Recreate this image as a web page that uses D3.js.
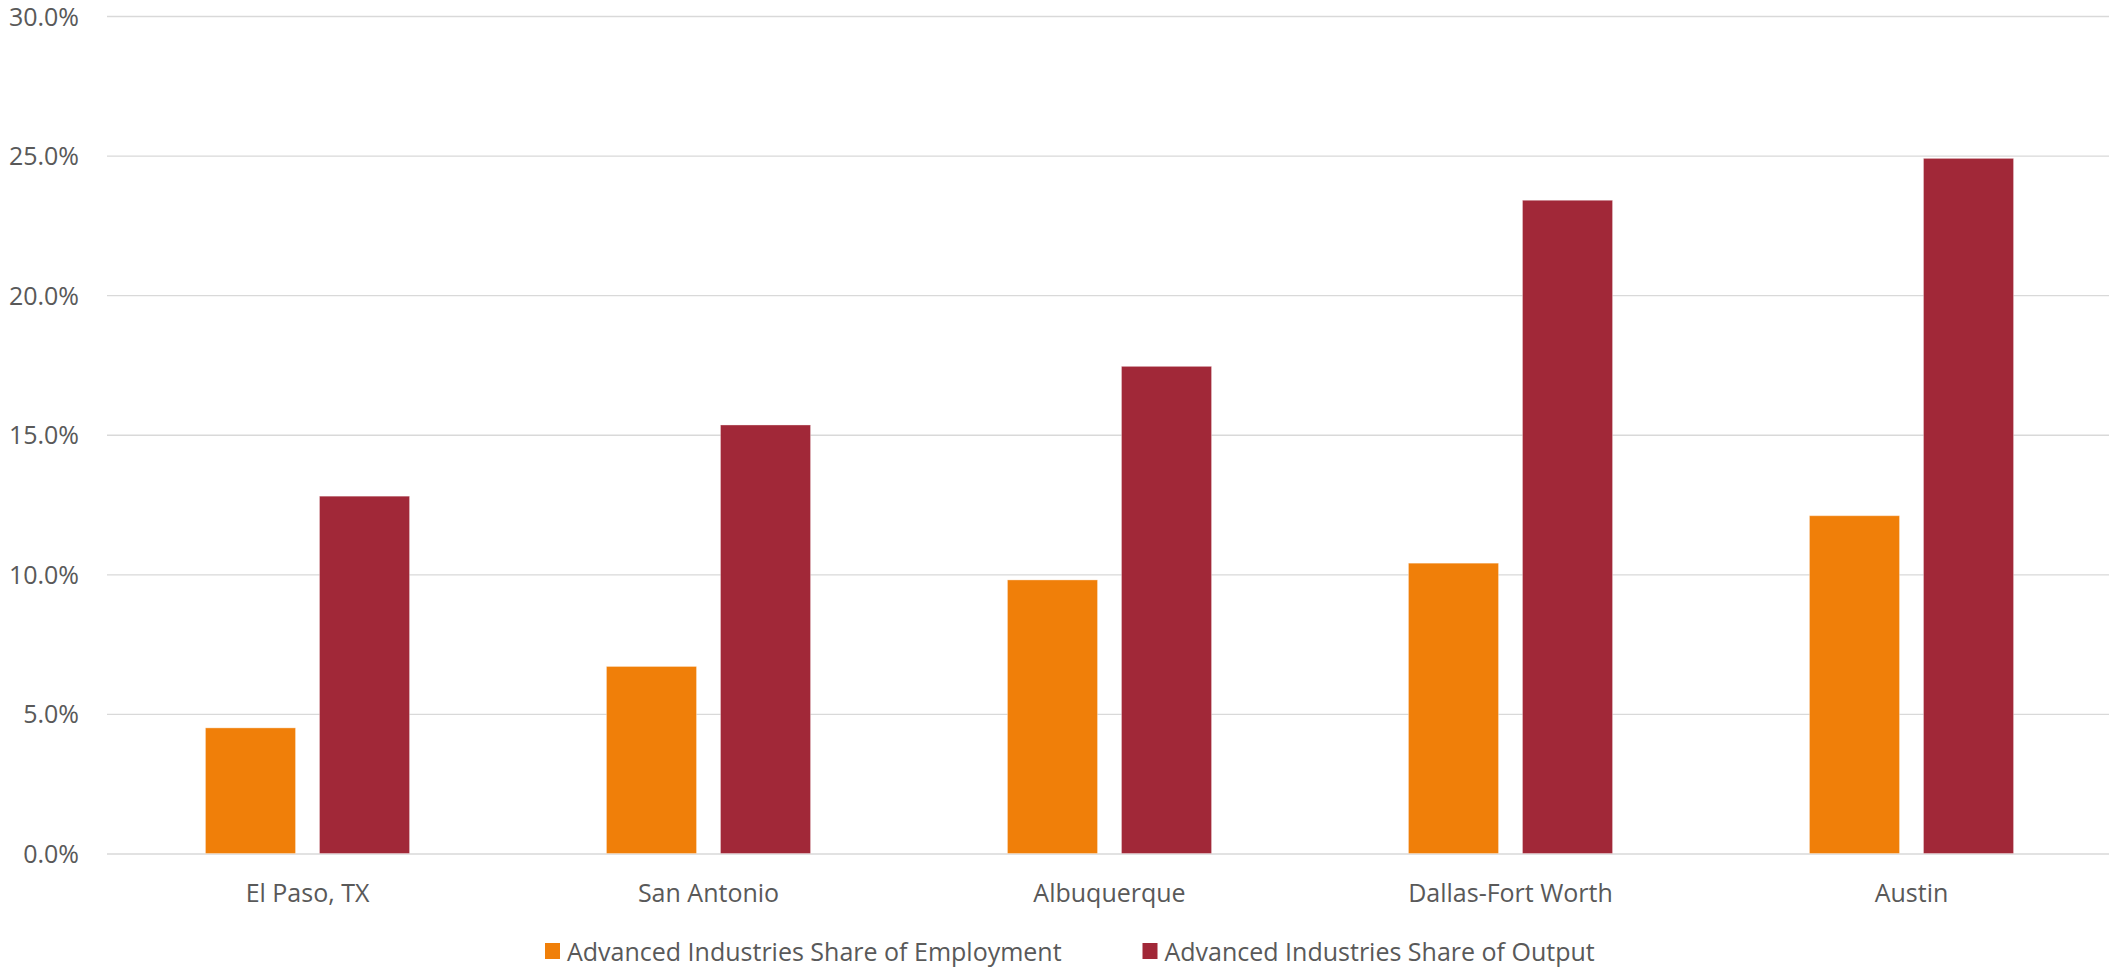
<!DOCTYPE html>
<html>
<head>
<meta charset="utf-8">
<script src="https://cdn.jsdelivr.net/npm/d3@7"></script>
<style>
  html, body { margin: 0; padding: 0; background: #ffffff; }
  svg { display: block; }
  text { font-family: "Open Sans", "Noto Sans", sans-serif; fill: #595959; }
</style>
</head>
<body>
<svg id="chart" width="2109" height="970"></svg>
<script>
// Metro areas along the x axis
const categories = ["El Paso, TX", "San Antonio", "Albuquerque", "Dallas-Fort Worth", "Austin"];

// Series names (legend order)
const seriesNames = [
  "Advanced Industries Share of Employment",
  "Advanced Industries Share of Output"
];

// Share of employment in advanced industries
const employmentShare = [0.045, 0.067, 0.098, 0.104, 0.121];

// Share of output in advanced industries
const outputShare = [0.128, 0.1535, 0.1745, 0.234, 0.249];

// Y axis ticks
const yTicks = [0, 0.05, 0.10, 0.15, 0.20, 0.25, 0.30];

const seriesColors = ["#F07F09", "#A12838"];

const svg = d3.select("#chart");

const plot = { left: 107, right: 2112, top: 16, bottom: 853.5 };

const x0 = d3.scaleBand()
  .domain(categories)
  .range([plot.left, plot.right])
  .paddingInner(0.491)
  .paddingOuter(0.2455);

const x1 = d3.scaleBand()
  .domain(seriesNames)
  .range([0, x0.bandwidth()])
  .paddingInner(0.21)
  .paddingOuter(0);

const y = d3.scaleLinear()
  .domain([0, 0.30])
  .range([plot.bottom, plot.top]);

// Horizontal gridlines
const grid = svg.append("g")
  .attr("transform", `translate(${plot.left},0)`)
  .call(d3.axisLeft(y).tickValues(yTicks).tickSize(-(plot.right - plot.left)).tickFormat(""));
grid.select(".domain").remove();
grid.selectAll(".tick line").attr("stroke", "#d9d9d9").attr("stroke-width", 1.4);

// Y axis labels
const yAxis = svg.append("g")
  .attr("transform", `translate(${plot.left},0)`)
  .call(d3.axisLeft(y).tickValues(yTicks).tickSize(0).tickPadding(28).tickFormat(d3.format(".1%")));
yAxis.select(".domain").remove();
yAxis.selectAll("text")
  .attr("font-size", 25)
  .attr("font-family", "'Open Sans', 'Noto Sans', sans-serif")
  .attr("fill", "#595959")
  .attr("dy", "0.36em");

// Bars
const rows = categories.map((c, i) => ({
  category: c,
  values: [
    { series: seriesNames[0], value: employmentShare[i], color: seriesColors[0] },
    { series: seriesNames[1], value: outputShare[i], color: seriesColors[1] }
  ]
}));

const groups = svg.append("g").selectAll("g")
  .data(rows)
  .join("g")
  .attr("transform", d => `translate(${x0(d.category)},0)`);

groups.selectAll("rect")
  .data(d => d.values)
  .join("rect")
  .attr("x", d => x1(d.series))
  .attr("width", x1.bandwidth())
  .attr("y", d => y(d.value))
  .attr("height", d => y(0) - y(d.value))
  .attr("fill", d => d.color)
  .attr("stroke", "#ffffff")
  .attr("stroke-opacity", 0.35)
  .attr("stroke-width", 1);

// Category labels
const xAxis = svg.append("g")
  .attr("transform", `translate(0,${plot.bottom})`)
  .call(d3.axisBottom(x0).tickSize(0).tickPadding(31));
xAxis.select(".domain").remove();
xAxis.selectAll("text")
  .attr("font-size", 25)
  .attr("font-family", "'Open Sans', 'Noto Sans', sans-serif")
  .attr("fill", "#595959");

// Legend
const legendX = [545, 1142.5];
const legend = svg.append("g").selectAll("g")
  .data(seriesNames)
  .join("g")
  .attr("transform", (d, i) => `translate(${legendX[i]},943)`);

legend.append("rect")
  .attr("width", 15)
  .attr("height", 16)
  .attr("fill", (d, i) => seriesColors[i]);

legend.append("text")
  .attr("x", 22)
  .attr("y", 18)
  .attr("font-size", 25)
  .text(d => d);
</script>
</body>
</html>
